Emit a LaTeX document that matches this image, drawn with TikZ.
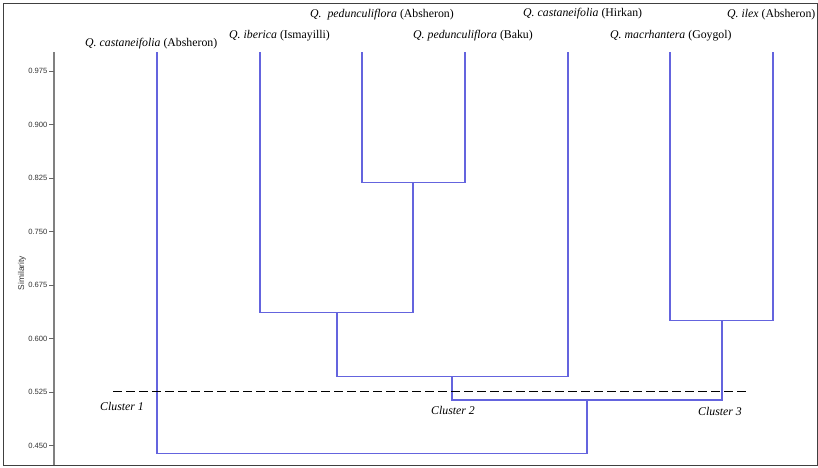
\documentclass[tikz,border=0pt]{standalone}
\usepackage{fontspec}
\setmainfont{Liberation Serif}
\newfontfamily\axisfont{Liberation Sans}
\begin{document}
\begin{tikzpicture}[x=1pt,y=-1pt,
  branch/.style={draw={rgb,255:red,100;green,100;blue,222}, line width=1.15pt},
  leaflabel/.style={anchor=base west, inner sep=0pt, font=\fontsize{11.8}{13}\selectfont},
  clusterlabel/.style={anchor=base west, inner sep=0pt, font=\fontsize{11.8}{13}\selectfont\itshape},
  ticklabel/.style={anchor=east, inner sep=0pt, font=\axisfont\fontsize{7.6}{9}\selectfont, text=black!80},
  cutline/.style={draw=black, line width=0.7pt, dash pattern=on 9pt off 4pt}
]
\useasboundingbox (0,0) rectangle (818,467);
% frame
\draw[black!75, line width=0.8pt] (3,3) rectangle (817,465);
% axis
\draw[black!50, line width=1.1pt] (54,52) -- (54,465);
\foreach \v/\y in {0.975/71.2,0.900/124.7,0.825/178.2,0.750/231.7,0.675/285.2,0.600/338.7,0.525/392.2,0.450/445.7}{
  \draw[black!60, line width=0.6pt] (49,\y) -- (54,\y);
  \node[ticklabel] (t\v) at (47.5,\y) {\v};
}
\node[rotate=90, inner sep=0pt, font=\axisfont\fontsize{8.4}{10}\selectfont, text=black!80] (ylab) at (22,273) {Similarity};

% leaves
\coordinate (l1) at (157,52);
\coordinate (l2) at (260,52);
\coordinate (l3) at (362,52);
\coordinate (l4) at (465,52);
\coordinate (l5) at (568,52);
\coordinate (l6) at (670,52);
\coordinate (l7) at (773,52);
% merges
\coordinate (m34) at (413,182.3);
\coordinate (m2) at (337,312.5);
\coordinate (m5) at (452,376.3);
\coordinate (m67) at (722,320.7);
\coordinate (mb) at (587,400);
\coordinate (mr) at (587,453.5);

\draw[branch] (l3) |- (m34) -| (l4);
\draw[branch] (l2) |- (m2) -| (m34);
\draw[branch] (m2) |- (m5) -| (l5);
\draw[branch] (l6) |- (m67) -| (l7);
\draw[branch] (m5) |- (mb) -| (m67);
\draw[branch] (l1) |- (mr) -| (mb);

% cut line
\coordinate (c1) at (113,391);
\coordinate (c2) at (747,391);
\draw[cutline] (c1) -- (c2);

% leaf labels
\node[leaflabel] (n1) at (85,46.8) {\textit{Q. castaneifolia} (Absheron)};
\node[leaflabel] (n2) at (229,38) {\textit{Q. iberica} (Ismayilli)};
\node[leaflabel] (n3) at (310,17.5) {\textit{Q.~~pedunculiflora} (Absheron)};
\node[leaflabel] (n4) at (413,38.3) {\textit{Q. pedunculiflora} (Baku)};
\node[leaflabel] (n5) at (523,16.8) {\textit{Q. castaneifolia} (Hirkan)};
\node[leaflabel] (n6) at (610,38.3) {\textit{Q. macrhantera} (Goygol)};
\node[leaflabel] (n7) at (727,17) {\textit{Q. ilex} (Absheron)};

% cluster labels
\node[clusterlabel] (k1) at (100,410.5) {Cluster 1};
\node[clusterlabel] (k2) at (431,414) {Cluster 2};
\node[clusterlabel] (k3) at (698,415) {Cluster 3};
\end{tikzpicture}
\end{document}
